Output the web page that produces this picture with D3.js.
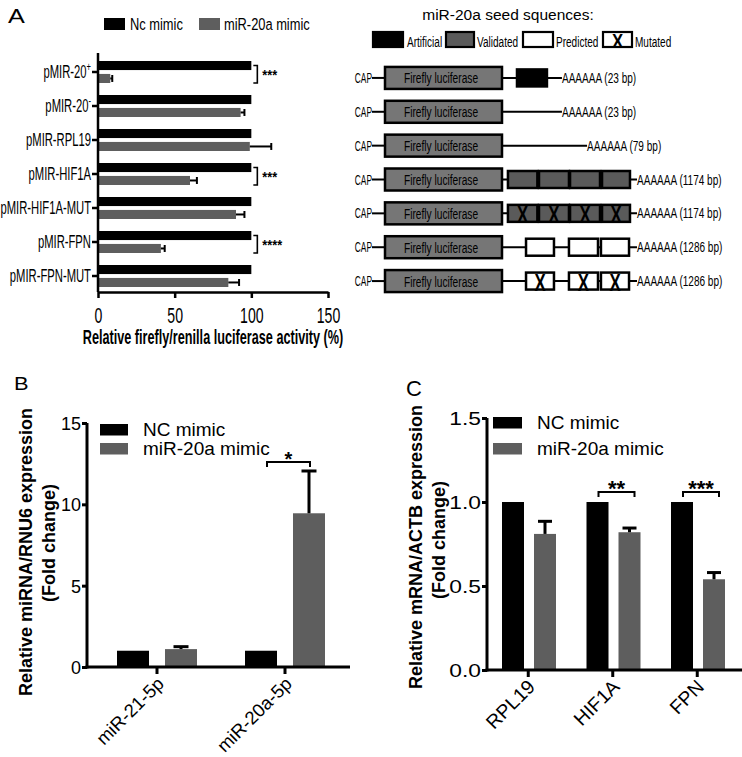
<!DOCTYPE html>
<html><head><meta charset="utf-8">
<script src="https://cdn.jsdelivr.net/npm/d3@7"></script>
<style>
body{margin:0;background:#fff;}
svg{display:block;font-family:"Liberation Sans",Arial,sans-serif;}
</style></head><body>
<svg id="chart" width="742" height="757"></svg>
<script>
// ---------------- DATA ----------------
// Panel A: luciferase reporter
const aCategories = ["pMIR-20+","pMIR-20-","pMIR-RPL19","pMIR-HIF1A","pMIR-HIF1A-MUT","pMIR-FPN","pMIR-FPN-MUT"];
const aSeries = ["Nc mimic","miR-20a mimic"];
const aNc = [100,100,100,100,100,100,100];
const aMimic = [8,93,99,60,90,41,85];
const aMimicErr = [1.3,2.5,14,4.5,5.5,2.5,7];
const aSig = ["***","","","***","","****",""];
const aTicks = [0,50,100,150];
const aXTitle = "Relative firefly/renilla luciferase activity (%)";

// Panel A diagram: constructs
const seedTitle = "miR-20a seed squences:";
const seedLegend = ["Artificial","Validated","Predicted","Mutated"];
const utrLabels = ["AAAAAA (23 bp)","AAAAAA (23 bp)","AAAAAA (79 bp)","AAAAAA (1174 bp)","AAAAAA (1174 bp)","AAAAAA (1286 bp)","AAAAAA (1286 bp)"];
const utrEnd = [44.4,44.4,63,100,100,100,100];           // relative UTR units
const seedKind = [["Artificial"],[],[],["Validated","Validated","Validated","Validated"],["Validated","Validated","Validated","Validated"],["Predicted","Predicted","Predicted"],["Predicted","Predicted","Predicted"]];
const seedMut = [[false],[],[],[false,false,false,false],[true,true,true,true],[false,false,false],[true,true,true]];
const seedStart = [[11.1],[],[],[4.4,27.4,50.4,74.1],[4.4,27.4,50.4,74.1],[17.8,49.6,73.3],[17.8,49.6,73.3]];
const seedEnd = [[33.3],[],[],[26.2,49.6,72.6,94.8],[26.2,49.6,72.6,94.8],[38.5,71.1,94.1],[38.5,71.1,94.1]];

// Panel B
const bCategories = ["miR-21-5p","miR-20a-5p"];
const bSeries = ["NC mimic","miR-20a mimic"];
const bNc = [1,1];
const bMimic = [1.1,9.45];
const bMimicErr = [0.15,2.6];
const bSig = ["","*"];
const bTicks = [0,5,10,15];
const bYTitle = ["Relative miRNA/RNU6 expression","(Fold change)"];

// Panel C
const cCategories = ["RPL19","HIF1A","FPN"];
const cSeries = ["NC mimic","miR-20a mimic"];
const cNc = [1,1,1];
const cMimic = [0.81,0.82,0.54];
const cMimicErr = [0.075,0.025,0.04];
const cSig = ["","**","***"];
const cTicks = [0,0.5,1.0,1.5];
const cYTitle = ["Relative mRNA/ACTB expression","(Fold change)"];

// ---------------- STYLE ----------------
const BLACK = "#000", GRAY = "#5e5e5e", FIREFLY = "#767676", VALID = "#5a5a5a";
const svg = d3.select("#chart");

function sqText(g, x, y, txt, o) {
  o = o || {};
  return g.append("text")
    .attr("transform", `translate(${x},${y}) scale(${o.sx||1},1)`)
    .attr("text-anchor", o.anchor || "start")
    .attr("font-size", o.size || 15)
    .attr("font-weight", o.weight || "normal")
    .attr("fill", o.fill || "#000")
    .text(txt);
}

// ================= PANEL A (bars) =================
(function(){
  const g = svg.append("g");
  const x = d3.scaleLinear().domain([0,150]).range([98,328]);
  const y = d3.scaleBand().domain(aCategories).range([55,293]);
  const inner = d3.scaleBand().domain(aSeries).range([6,28]).paddingInner(0.3);
  const axisY = 292;

  sqText(g, 8, 23, "A", {size:21, sx:1.2});

  // legend
  const lg = g.append("g");
  const legX = [104,199], legTX = [130,224];
  aSeries.forEach((s,i)=>{
    lg.append("rect").attr("x",legX[i]).attr("y",18).attr("width",21).attr("height",12).attr("fill", i? GRAY:BLACK);
    sqText(lg, legTX[i], 30, s, {size:16.5, sx:0.78});
  });

  // bars
  aCategories.forEach((c,i)=>{
    const vals = [aNc[i], aMimic[i]];
    aSeries.forEach((s,j)=>{
      g.append("rect")
        .attr("x", x(0)).attr("y", y(c)+inner(s))
        .attr("width", x(vals[j])-x(0)).attr("height", inner.bandwidth())
        .attr("fill", j? GRAY:BLACK);
    });
    // error bar
    const cy = y(c)+inner(aSeries[1])+inner.bandwidth()/2;
    g.append("line").attr("x1",x(aMimic[i])).attr("x2",x(aMimic[i]+aMimicErr[i]))
      .attr("y1",cy).attr("y2",cy).attr("stroke","#000").attr("stroke-width",2);
    g.append("line").attr("x1",x(aMimic[i]+aMimicErr[i])).attr("x2",x(aMimic[i]+aMimicErr[i]))
      .attr("y1",cy-3.5).attr("y2",cy+3.5).attr("stroke","#000").attr("stroke-width",2);
    // significance
    if (aSig[i]) {
      const y0 = y(c)+inner(aSeries[0])+inner.bandwidth()/2;
      const y1 = y(c)+inner(aSeries[1])+inner.bandwidth();
      const bx = x(100)+2;
      g.append("path").attr("d",`M${bx},${y0}H${bx+4}V${y1}H${bx}`)
        .attr("fill","none").attr("stroke","#000").attr("stroke-width",1.6);
      sqText(g, bx+9, y(c)+y.bandwidth()/2+8, aSig[i], {size:15, weight:"bold", sx:0.85});
    }
  });

  // axes
  const xa = g.append("g").attr("transform",`translate(0,${axisY})`)
    .call(d3.axisBottom(x).tickValues(aTicks).tickSize(6).tickSizeOuter(0));
  xa.select(".domain").attr("stroke-width",2.5);
  xa.selectAll(".tick line").attr("stroke-width",2.5);
  xa.selectAll(".tick text").attr("font-size",22).attr("font-family",'"Liberation Sans",Arial,sans-serif')
    .attr("y",null).attr("dy",null)
    .attr("transform","translate(0,31) scale(0.64,1)");

  const ya = g.append("g").attr("transform",`translate(${x(0)},0)`)
    .call(d3.axisLeft(y).tickSize(6).tickSizeOuter(0));
  ya.select(".domain").attr("stroke-width",2.5).attr("d",`M0,53V${axisY}`);
  ya.selectAll(".tick line").attr("stroke-width",2.5);
  ya.selectAll(".tick text").each(function(d){
    const t = d3.select(this);
    t.text(null).attr("x",null).attr("dy",null)
      .attr("font-size",18).attr("font-family",'"Liberation Sans",Arial,sans-serif')
      .attr("transform","translate(-7,6) scale(0.625,1)");
    const m = d.match(/^(pMIR-20)([+-])$/);
    if (m) {
      t.append("tspan").text(m[1]);
      t.append("tspan").text(m[2]).attr("font-size",12).attr("dy",-7);
    } else t.text(d);
  });

  sqText(g, 213, 344, aXTitle, {size:19.5, weight:"bold", sx:0.65, anchor:"middle"});
})();

// ================= PANEL A (diagram) =================
(function(){
  const g = svg.append("g");
  const row = d3.scaleBand().domain(aCategories).range([61,298]);
  const utrX = d3.scaleLinear().domain([0,100]).range([502,637]);
  const fill = {Artificial:BLACK, Validated:VALID, Predicted:"#fff", Mutated:"#fff"};

  g.append("text").attr("x",508).attr("y",20).attr("text-anchor","middle")
    .attr("font-size",15.5).text(seedTitle);

  // legend
  const lbx = [373,446,523,603], lbw = [30,28,30,29], ltx = [407,477,556,635];
  seedLegend.forEach((s,i)=>{
    g.append("rect").attr("x",lbx[i]).attr("y",32).attr("width",lbw[i]).attr("height",15)
      .attr("fill",fill[s]).attr("stroke","#000").attr("stroke-width",2.2);
    if (s==="Mutated") sqText(g, lbx[i]+lbw[i]/2, 48, "X", {size:21, weight:"bold", sx:0.8, anchor:"middle"});
    sqText(g, ltx[i], 47, s, {size:15, sx:0.67});
  });

  aCategories.forEach((c,i)=>{
    const cy = row(c)+row.bandwidth()/2;
    sqText(g, 372, cy+5, "CAP", {size:14, sx:0.6, anchor:"end"});
    g.append("line").attr("x1",372).attr("x2",385).attr("y1",cy).attr("y2",cy).attr("stroke","#000").attr("stroke-width",2);
    g.append("line").attr("x1",utrX(0)).attr("x2",utrX(utrEnd[i])).attr("y1",cy).attr("y2",cy).attr("stroke","#000").attr("stroke-width",2);
    g.append("rect").attr("x",385).attr("y",cy-11).attr("width",utrX(0)-385).attr("height",22)
      .attr("fill",FIREFLY).attr("stroke","#000").attr("stroke-width",2.5);
    sqText(g, 441, cy+5.5, "Firefly luciferase", {size:15, sx:0.68, anchor:"middle"});
    seedKind[i].forEach((k,j)=>{
      const x0 = utrX(seedStart[i][j]), x1 = utrX(seedEnd[i][j]);
      g.append("rect").attr("x",x0).attr("y",cy-8.5).attr("width",x1-x0).attr("height",17)
        .attr("fill",fill[k]).attr("stroke","#000").attr("stroke-width",2.5);
      if (seedMut[i][j]) sqText(g,(x0+x1)/2, cy+10, "X", {size:24, weight:"bold", sx:0.7, anchor:"middle"});
    });
    sqText(g, utrX(utrEnd[i]), cy+5, utrLabels[i], {size:15, sx:0.67});
  });
})();

// ============ generic grouped vertical bar panel ============
function vPanel(o){
  const g = svg.append("g");
  const y = d3.scaleLinear().domain(o.domain).range(o.yRange);
  const x = d3.scaleBand().domain(o.cats).range(o.xRange);
  const inner = d3.scaleBand().domain(o.series).range(o.innerRange).paddingInner(o.innerPad);
  const axisY = y(0), axisX = o.axisX;

  o.cats.forEach((c,i)=>{
    const vals = [o.nc[i], o.mimic[i]];
    o.series.forEach((s,j)=>{
      g.append("rect").attr("x",x(c)+inner(s)).attr("y",y(vals[j]))
        .attr("width",inner.bandwidth()).attr("height",axisY-y(vals[j]))
        .attr("fill", j? GRAY:BLACK);
    });
    const cx = x(c)+inner(o.series[1])+inner.bandwidth()/2;
    const top = y(o.mimic[i]+o.err[i]);
    g.append("line").attr("x1",cx).attr("x2",cx).attr("y1",y(o.mimic[i])).attr("y2",top)
      .attr("stroke","#000").attr("stroke-width",o.ew);
    g.append("line").attr("x1",cx-o.capW/2).attr("x2",cx+o.capW/2).attr("y1",top).attr("y2",top)
      .attr("stroke","#000").attr("stroke-width",o.ew);
    if (o.sig[i]) {
      const bx0 = x(c)+inner(o.series[0])+inner.bandwidth()/2+o.brL;
      const bx1 = x(c)+inner(o.series[1])+inner.bandwidth()/2+o.brR;
      const by = o.brY;
      g.append("path").attr("d",`M${bx0},${by+5}V${by}H${bx1}V${by+5}`)
        .attr("fill","none").attr("stroke","#000").attr("stroke-width",2);
      g.append("text").attr("x",(bx0+bx1)/2).attr("y",by+o.starDy).attr("text-anchor","middle")
        .attr("font-size",o.starSize).attr("font-weight","bold").text(o.sig[i]);
    }
  });

  // axes
  const ya = g.append("g").attr("transform",`translate(${axisX},0)`)
    .call(d3.axisLeft(y).tickValues(o.ticks).tickFormat(o.fmt).tickSize(5).tickSizeOuter(0));
  ya.select(".domain").attr("stroke-width",3).attr("d",`M0,${o.yRange[1]}V${axisY+1.5}`);
  ya.selectAll(".tick line").attr("stroke-width",3);
  ya.selectAll(".tick text").attr("font-size",o.tickSize).attr("font-family",'"Liberation Sans",Arial,sans-serif')
    .attr("x",null).attr("dy",null).attr("transform",`translate(-6,${o.tickSize*0.36}) scale(${o.tickSx},1)`);

  const xa = g.append("g").attr("transform",`translate(0,${axisY})`)
    .call(d3.axisBottom(x).tickSize(7).tickSizeOuter(0));
  xa.select(".domain").attr("stroke-width",3).attr("d",`M${axisX-1.5},0H${o.xEnd}`);
  xa.selectAll(".tick line").attr("stroke-width",3);
  xa.selectAll(".tick text").attr("font-size",o.xlabSize).attr("font-family",'"Liberation Sans",Arial,sans-serif')
    .attr("text-anchor","end").attr("y",null).attr("dy",null)
    .attr("transform",`translate(${o.xlabDx},${o.xlabDy}) rotate(-45)`);

  // legend
  o.series.forEach((s,j)=>{
    g.append("rect").attr("x",o.legX).attr("y",o.legY[j]).attr("width",o.legW).attr("height",11.5).attr("fill", j? GRAY:BLACK);
    g.append("text").attr("x",o.legTX).attr("y",o.legY[j]+12).attr("font-size",19).text(s);
  });

  // y title
  o.title.forEach((t,k)=>{
    g.append("text").attr("transform",`translate(${o.titleX[k]},${o.titleCY[k]}) rotate(-90)`)
      .attr("text-anchor","middle").attr("font-size",18).attr("font-weight","bold").text(t);
  });
  sqText(g, o.letter.x, o.letter.y, o.letter.t, {size:o.letter.size, sx:o.letter.sx});
}

vPanel({
  cats:bCategories, series:bSeries, nc:bNc, mimic:bMimic, err:bMimicErr, sig:bSig,
  domain:[0,15], ticks:bTicks, fmt:d3.format("d"), yRange:[667,423], xRange:[93,349],
  innerRange:[24,104], innerPad:0.333, axisX:87, xEnd:350,
  ew:3, capW:15, brL:6, brR:1, brY:462, starDy:4, starSize:20,
  tickSize:18, tickSx:1,
  xlabSize:18.5, xlabDx:8, xlabDy:18,
  legX:100, legY:[424,443], legW:28, legTX:143,
  title:bYTitle, titleX:[32,55], titleCY:[552,543],
  letter:{x:14, y:390, t:"B", size:19, sx:1.15}
});

vPanel({
  cats:cCategories, series:cSeries, nc:cNc, mimic:cMimic, err:cMimicErr, sig:cSig,
  domain:[0,1.5], ticks:cTicks, fmt:d3.format(".1f"), yRange:[670,418], xRange:[486,739.5],
  innerRange:[16,70], innerPad:0.3125, axisX:487, xEnd:742,
  ew:3, capW:14, brL:1, brR:5, brY:492, starDy:4, starSize:22,
  tickSize:19, tickSx:1.2,
  xlabSize:19.5, xlabDx:8, xlabDy:18,
  legX:493, legY:[417,443], legW:29, legTX:537,
  title:cYTitle, titleX:[422,445], titleCY:[547,540],
  letter:{x:406, y:396, t:"C", size:22, sx:1}
});
</script>
</body></html>
